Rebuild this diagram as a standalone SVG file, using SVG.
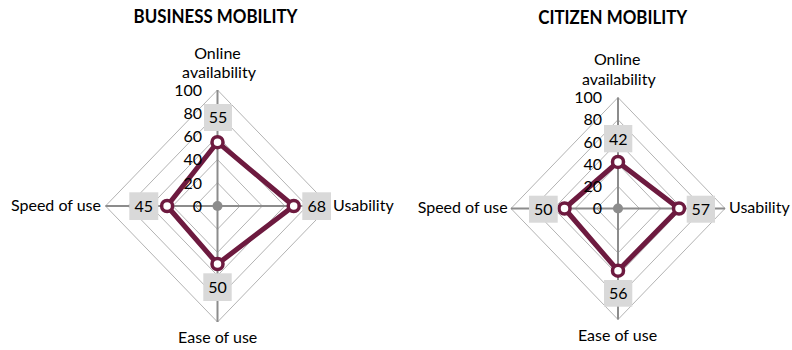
<svg xmlns="http://www.w3.org/2000/svg" width="792" height="350" viewBox="0 0 792 350">
<style>
text{font-family:Lato,"Open Sans","Liberation Sans",sans-serif;fill:#000}
.title{font-size:19px;font-weight:bold;text-anchor:middle}
.ax{font-size:16px}
.mid{text-anchor:middle}
.end{text-anchor:end}
.tick{font-size:16px;text-anchor:end}
.val{font-size:16px;text-anchor:middle}
.ring{fill:none;stroke:#b3b3b3;stroke-width:1}
.axis{stroke:#8c8c8c;stroke-width:2}
.series{fill:none;stroke:#6d1a3f;stroke-width:5;stroke-linejoin:round}
.mk{fill:#fff;stroke:#6d1a3f;stroke-width:3.5}
.dot{fill:#8c8c8c}
.box{fill:#d9d9d9}
</style>
<rect width="792" height="350" fill="#fff"/>

<g id="chart-business">
  <text class="title" x="215.5" y="23" textLength="164" lengthAdjust="spacingAndGlyphs">BUSINESS MOBILITY</text>
  <g id="grid-business">
    <polygon class="ring" points="217.5,182.8 239.9,206 217.5,229.2 195.1,206"/>
    <polygon class="ring" points="217.5,159.6 262.3,206 217.5,252.4 172.7,206"/>
    <polygon class="ring" points="217.5,136.4 284.7,206 217.5,275.6 150.3,206"/>
    <polygon class="ring" points="217.5,113.2 307.1,206 217.5,298.8 127.9,206"/>
    <polygon class="ring" points="217.5,90 329.5,206 217.5,322 105.5,206"/>
    <line class="axis" x1="217.5" y1="206" x2="217.5" y2="90"/>
    <line class="axis" x1="217.5" y1="206" x2="329.5" y2="206"/>
    <line class="axis" x1="217.5" y1="206" x2="217.5" y2="322"/>
    <line class="axis" x1="217.5" y1="206" x2="105.5" y2="206"/>
  </g>
  <g id="series-business">
    <polygon class="series" points="217.5,142.2 293.7,206 217.5,264 167.1,206"/>
    <circle class="mk" cx="217.5" cy="142.2" r="5.5"/>
    <circle class="mk" cx="293.7" cy="206" r="5.5"/>
    <circle class="mk" cx="217.5" cy="264" r="5.5"/>
    <circle class="mk" cx="167.1" cy="206" r="5.5"/>
    <circle class="dot" cx="217.5" cy="206" r="5"/>
  </g>
  <g id="ticks-business">
    <text class="tick" x="202" y="211.7">0</text>
    <text class="tick" x="202" y="188.5">20</text>
    <text class="tick" x="202" y="165.3">40</text>
    <text class="tick" x="202" y="142.1">60</text>
    <text class="tick" x="202" y="118.9">80</text>
    <text class="tick" x="202" y="95.7">100</text>
  </g>
  <g id="values-business">
    <rect class="box" x="204" y="104" width="28" height="27"/>
    <text class="val" x="218" y="123.3">55</text>
    <rect class="box" x="129.3" y="192.3" width="29" height="27.7"/>
    <text class="val" x="143.8" y="211.6">45</text>
    <rect class="box" x="302.3" y="192.3" width="28.7" height="27.7"/>
    <text class="val" x="316.7" y="211.6">68</text>
    <rect class="box" x="203.3" y="273.3" width="28.4" height="27.7"/>
    <text class="val" x="217.5" y="292.6">50</text>
  </g>
  <g id="labels-business">
    <text class="ax mid" x="217.5" y="58.5">Online</text>
    <text class="ax mid" x="219" y="78">availability</text>
    <text class="ax end" x="101" y="211">Speed of use</text>
    <text class="ax" x="333" y="211">Usability</text>
    <text class="ax mid" x="217.7" y="342.5">Ease of use</text>
  </g>
</g>

<g id="chart-citizen">
  <text class="title" x="612.8" y="23.5" textLength="149" lengthAdjust="spacingAndGlyphs">CITIZEN MOBILITY</text>
  <g id="grid-citizen">
    <polygon class="ring" points="618,186.3 639.4,208.5 618,230.7 596.6,208.5"/>
    <polygon class="ring" points="618,164.1 660.8,208.5 618,252.9 575.2,208.5"/>
    <polygon class="ring" points="618,141.9 682.2,208.5 618,275.1 553.8,208.5"/>
    <polygon class="ring" points="618,119.7 703.6,208.5 618,297.3 532.4,208.5"/>
    <polygon class="ring" points="618,97.5 725,208.5 618,319.5 511,208.5"/>
    <line class="axis" x1="618" y1="208.5" x2="618" y2="97.5"/>
    <line class="axis" x1="618" y1="208.5" x2="725" y2="208.5"/>
    <line class="axis" x1="618" y1="208.5" x2="618" y2="319.5"/>
    <line class="axis" x1="618" y1="208.5" x2="511" y2="208.5"/>
  </g>
  <g id="series-citizen">
    <polygon class="series" points="618,161.9 679,208.5 618,270.7 564.5,208.5"/>
    <circle class="mk" cx="618" cy="161.9" r="5.5"/>
    <circle class="mk" cx="679" cy="208.5" r="5.5"/>
    <circle class="mk" cx="618" cy="270.7" r="5.5"/>
    <circle class="mk" cx="564.5" cy="208.5" r="5.5"/>
    <circle class="dot" cx="618" cy="208.5" r="5"/>
  </g>
  <g id="ticks-citizen">
    <text class="tick" x="602" y="214.2">0</text>
    <text class="tick" x="602" y="192">20</text>
    <text class="tick" x="602" y="169.8">40</text>
    <text class="tick" x="602" y="147.6">60</text>
    <text class="tick" x="602" y="125.4">80</text>
    <text class="tick" x="602" y="103.2">100</text>
  </g>
  <g id="values-citizen">
    <rect class="box" x="604" y="125" width="28.3" height="27.3"/>
    <text class="val" x="618.2" y="144.5">42</text>
    <rect class="box" x="529" y="195.7" width="28.7" height="27"/>
    <text class="val" x="543.3" y="214.5">50</text>
    <rect class="box" x="686.7" y="195.7" width="28.3" height="27"/>
    <text class="val" x="700.8" y="214.5">57</text>
    <rect class="box" x="604" y="280" width="28.3" height="26.7"/>
    <text class="val" x="618.2" y="299">56</text>
  </g>
  <g id="labels-citizen">
    <text class="ax mid" x="617.2" y="65">Online</text>
    <text class="ax mid" x="618.8" y="85">availability</text>
    <text class="ax end" x="507.7" y="213.3">Speed of use</text>
    <text class="ax" x="729" y="213.3">Usability</text>
    <text class="ax mid" x="617.5" y="341">Ease of use</text>
  </g>
</g>
</svg>
